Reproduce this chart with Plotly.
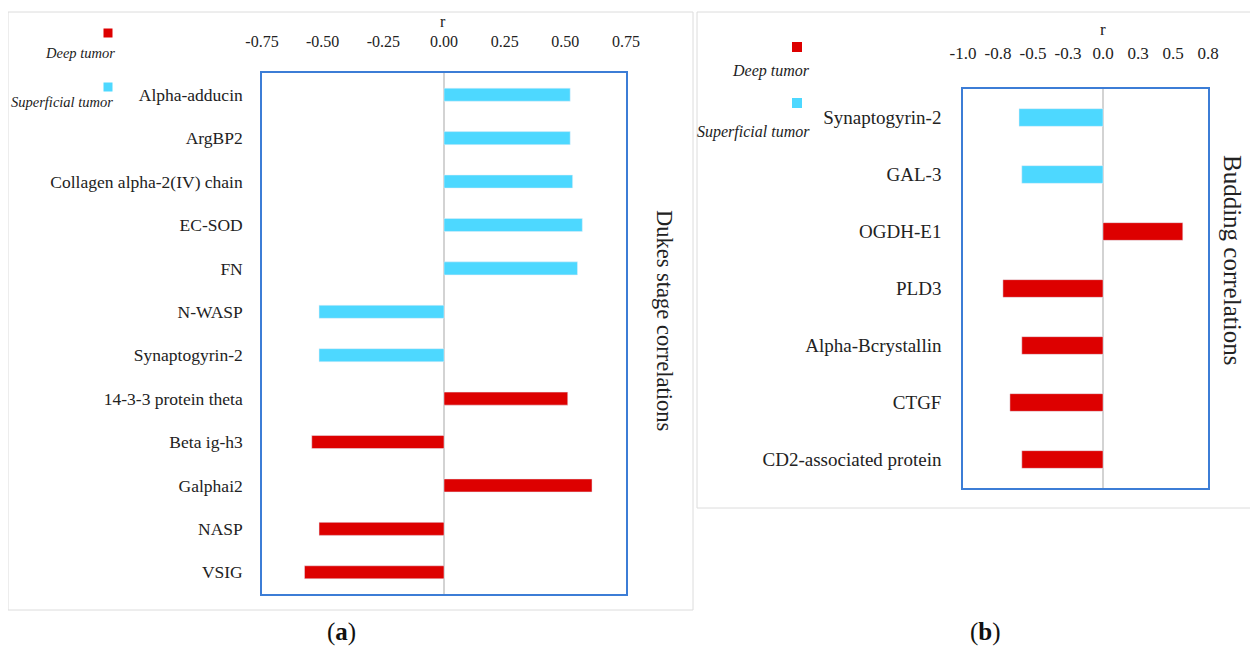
import plotly.graph_objects as go

# ---- data: panel (a) Dukes stage correlations ----
a_categories = ["Alpha-adducin", "ArgBP2", "Collagen alpha-2(IV) chain", "EC-SOD", "FN",
                "N-WASP", "Synaptogyrin-2", "14-3-3 protein theta", "Beta ig-h3",
                "Galphai2", "NASP", "VSIG"]
a_values = [0.52, 0.52, 0.53, 0.57, 0.55, -0.515, -0.515, 0.51, -0.545, 0.61, -0.515, -0.575]
a_group = ["Superficial", "Superficial", "Superficial", "Superficial", "Superficial",
           "Superficial", "Superficial", "Deep", "Deep", "Deep", "Deep", "Deep"]
a_tickvals = [-0.75, -0.5, -0.25, 0.0, 0.25, 0.5, 0.75]
a_ticktext = ["-0.75", "-0.50", "-0.25", "0.00", "0.25", "0.50", "0.75"]

# ---- data: panel (b) Budding correlations ----
b_categories = ["Synaptogyrin-2", "GAL-3", "OGDH-E1", "PLD3", "Alpha-Bcrystallin",
                "CTGF", "CD2-associated protein"]
b_values = [-0.60, -0.58, 0.57, -0.715, -0.58, -0.665, -0.58]
b_group = ["Superficial", "Superficial", "Deep", "Deep", "Deep", "Deep", "Deep"]
b_tickvals = [-1.0, -0.75, -0.5, -0.25, 0.0, 0.25, 0.5, 0.75]
b_ticktext = ["-1.0", "-0.8", "-0.5", "-0.3", "0.0", "0.3", "0.5", "0.8"]

colors = {"Deep": "#DD0000", "Superficial": "#4DD8FF"}
FONT = "Liberation Serif"
OFF = 8               # page body margin
W, H = 1258 - OFF, 646 - OFF


def px(x):
    return (x - OFF) / W


def py(y):
    return 1 - (y - OFF) / H


fig = go.Figure()

for grp in ["Superficial", "Deep"]:
    fig.add_trace(go.Bar(
        x=[v for v, g in zip(a_values, a_group) if g == grp],
        y=[c for c, g in zip(a_categories, a_group) if g == grp],
        orientation="h", marker_color=colors[grp], width=0.3,
        showlegend=False, xaxis="x", yaxis="y", hoverinfo="x+y"))
    fig.add_trace(go.Bar(
        x=[v for v, g in zip(b_values, b_group) if g == grp],
        y=[c for c, g in zip(b_categories, b_group) if g == grp],
        orientation="h", marker_color=colors[grp], width=0.31,
        showlegend=False, xaxis="x2", yaxis="y2", hoverinfo="x+y"))

axis_common = dict(showgrid=False, zeroline=True, zerolinecolor="#D3D3D3", zerolinewidth=1.5,
                   showline=True, mirror=True, linecolor="#3C7DD6", linewidth=1.5,
                   ticks="", fixedrange=True, automargin=False)

fig.update_layout(
    width=W, height=H, margin=dict(l=0, r=0, t=0, b=0, autoexpand=False),
    paper_bgcolor="white", plot_bgcolor="white",
    barmode="overlay",
    font=dict(family=FONT, color="#222222"),
    xaxis=dict(domain=[px(262), px(626)], range=[-0.75, 0.75], side="top",
               tickvals=a_tickvals, ticktext=a_ticktext, tickfont=dict(size=16),
               ticklabelstandoff=18, anchor="y", **axis_common),
    yaxis=dict(domain=[py(594), py(73)], type="category",
               categoryorder="array", categoryarray=a_categories[::-1],
               tickfont=dict(size=17.5), ticklabelstandoff=14, anchor="x",
               **axis_common),
    xaxis2=dict(domain=[px(963), px(1208)], range=[-1.0, 0.75], side="top",
                tickvals=b_tickvals, ticktext=b_ticktext, tickfont=dict(size=17),
                ticklabelstandoff=21, anchor="y2", **axis_common),
    yaxis2=dict(domain=[py(488), py(89)], type="category",
                categoryorder="array", categoryarray=b_categories[::-1],
                tickfont=dict(size=19), ticklabelstandoff=16, anchor="x2",
                **axis_common),
)

# panel frames
fig.add_shape(type="rect", xref="paper", yref="paper", x0=px(8), x1=px(693), y0=py(610), y1=py(12),
              line=dict(color="#DCDCDC", width=1), layer="below")
fig.add_shape(type="rect", xref="paper", yref="paper", x0=px(697), x1=px(1262), y0=py(508), y1=py(12),
              line=dict(color="#DCDCDC", width=1), layer="below")

# legend key squares (centre x, centre y, half-size, colour)
legend_keys = [(108, 33, 4.5, colors["Deep"]), (108, 87, 4.5, colors["Superficial"]),
               (797, 47, 5, colors["Deep"]), (797, 103, 5, colors["Superficial"])]
for cx, cy, hs, col in legend_keys:
    fig.add_shape(type="rect", xref="paper", yref="paper",
                  x0=px(cx - hs), x1=px(cx + hs), y0=py(cy + hs), y1=py(cy - hs),
                  fillcolor=col, line=dict(width=0))

ann = []
# axis titles "r"
ann.append(dict(x=px(443), y=py(21), text="r", font=dict(size=16)))
ann.append(dict(x=px(1103), y=py(30), text="r", font=dict(size=17)))
# rotated titles
ann.append(dict(x=px(665), y=py(320), text="Dukes stage correlations", textangle=90,
                font=dict(size=22.5)))
ann.append(dict(x=px(1233), y=py(260), text="Budding correlations", textangle=90,
                font=dict(size=25)))
# legend labels
ann.append(dict(x=px(80), y=py(53), text="<i>Deep tumor</i>", font=dict(size=14.5)))
ann.append(dict(x=px(62), y=py(102), text="<i>Superficial tumor</i>", font=dict(size=14.5)))
ann.append(dict(x=px(771), y=py(71), text="<i>Deep tumor</i>", font=dict(size=16)))
ann.append(dict(x=px(753), y=py(132), text="<i>Superficial tumor</i>", font=dict(size=16)))
# panel labels
ann.append(dict(x=px(341), y=py(632), text="(<b>a</b>)", font=dict(size=25, color="#111111")))
ann.append(dict(x=px(985), y=py(632), text="(<b>b</b>)", font=dict(size=25, color="#111111")))

for a in ann:
    a.update(xref="paper", yref="paper", showarrow=False, xanchor="center", yanchor="middle")
    fig.add_annotation(**a)

fig.write_html("out.html")
